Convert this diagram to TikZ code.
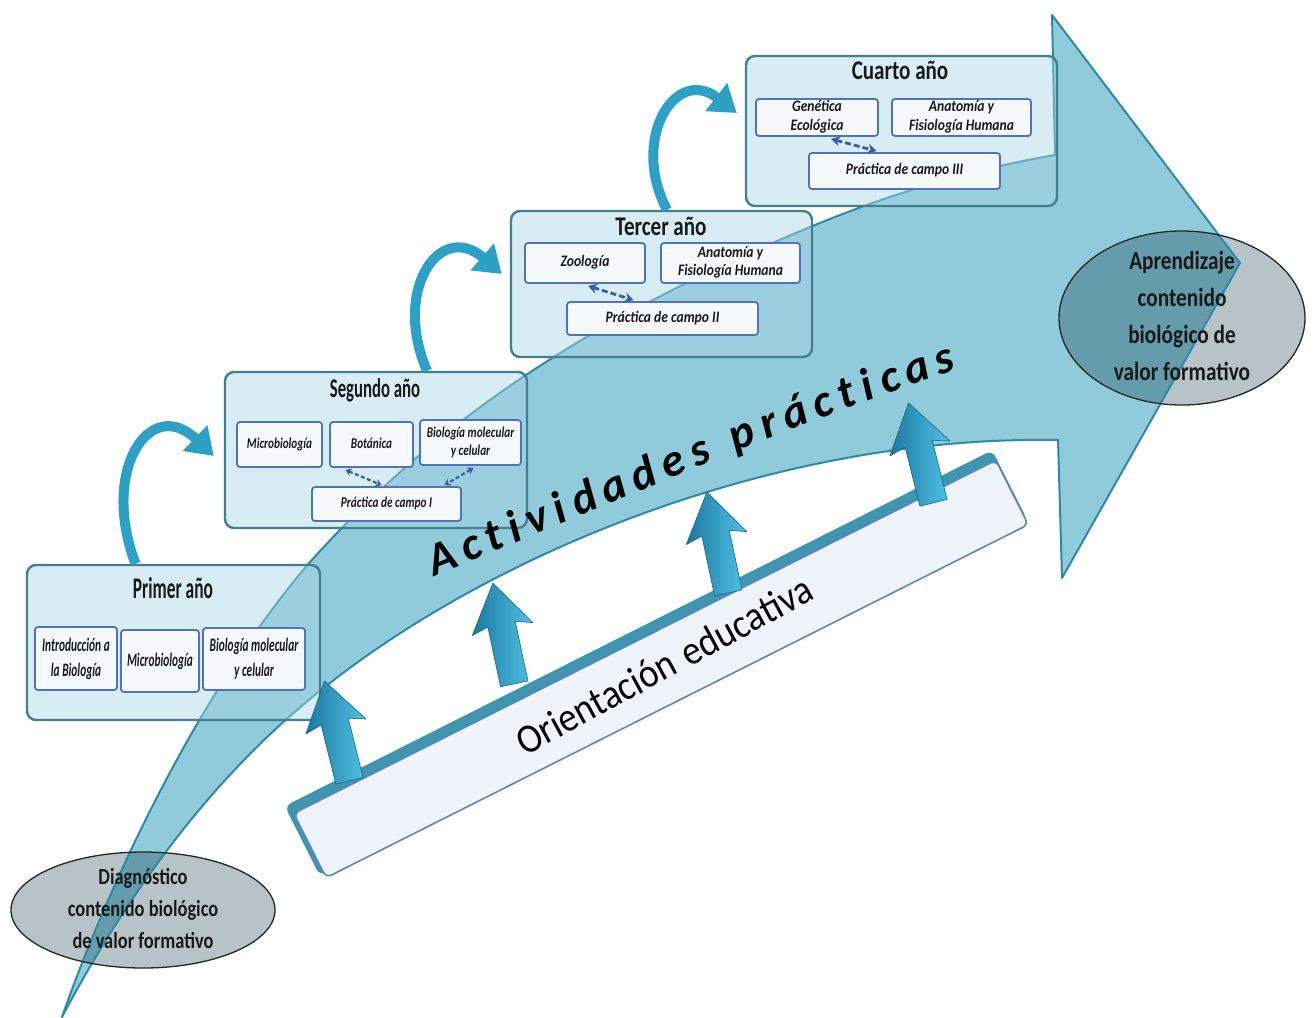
\documentclass[tikz,border=0pt]{standalone}
\usepackage{fontspec}
\setmainfont{Carlito}
\usepackage{graphicx}
\usetikzlibrary{arrows.meta,shapes.geometric}
\definecolor{arrowfill}{RGB}{144,203,220}
\definecolor{arrowline}{RGB}{47,138,163}
\definecolor{boxfill}{RGB}{169,213,228}
\definecolor{boxline}{RGB}{64,128,145}
\definecolor{innerline}{RGB}{80,115,185}
\definecolor{innerfill}{RGB}{246,249,252}
\definecolor{curvecol}{RGB}{45,160,198}
\definecolor{ellgray}{RGB}{183,195,199}
\definecolor{elldark}{RGB}{100,156,172}
\definecolor{dashcol}{RGB}{55,95,160}
\definecolor{upl}{RGB}{28,120,160}
\definecolor{upr}{RGB}{80,195,228}
\definecolor{upd}{RGB}{25,100,135}
\definecolor{barback}{RGB}{62,149,173}
\definecolor{barfill}{RGB}{238,244,249}
\definecolor{barline}{RGB}{90,134,197}
\newcommand{\sq}[2]{\scalebox{#1}[1]{\begin{tabular}{@{}c@{}}#2\end{tabular}}}
\def\bigarrowpath{(62,1017) .. controls (110,880) and (200,690) .. (310,562) .. controls (420,440) and (560,330) .. (815,225) .. controls (900,190) and (980,168) .. (1055,155) -- (1052,15) -- (1240,263) -- (1062,578) -- (1058,440) .. controls (780,435) and (500,550) .. (330,683) .. controls (230,760) and (140,870) .. (62,1017) -- cycle}
\def\aprell{(1182,318) ellipse [x radius=123, y radius=87]}
\def\diaell{(143,910) ellipse [x radius=132, y radius=58]}
\newcommand{\uparr}[3]{\begin{scope}[shift={(#1,#2)}, rotate=#3]
 \shade[left color=upl, right color=upr, draw=upd, line width=0.6pt, line join=round] (-14,6) -- (-14,-55) -- (-31,-50) -- (0,-97) -- (31,-50) -- (14,-55) -- (14,6) -- cycle;
 \end{scope}}
\begin{document}
\begin{tikzpicture}[x=1pt,y=-1pt,
 yearbox/.style={draw=boxline, line width=2.4pt, rounded corners=9pt, fill=boxfill, fill opacity=0.45, inner sep=0pt},
 ytitle/.style={inner sep=0pt, text=black!90, font=\fontsize{27}{30}\selectfont\bfseries},
 inbox/.style={draw=innerline, line width=1.8pt, fill=innerfill, rounded corners=3pt, inner sep=0pt, text=black!90},
 inA/.style={font=\fontsize{19}{25}\selectfont\bfseries\itshape},
 inB/.style={font=\fontsize{15}{18}\selectfont\bfseries\itshape},
 inC/.style={font=\fontsize{16}{18.5}\selectfont\bfseries\itshape},
 dasharrow/.style={draw=dashcol, line width=2.8pt, dash pattern=on 6pt off 3pt, {Stealth[length=9pt,width=10pt]}-{Stealth[length=9pt,width=10pt]}},
 smalldash/.style={draw=dashcol, line width=2.2pt, dash pattern=on 4pt off 2.5pt, {Stealth[length=6pt,width=8pt]}-{Stealth[length=6pt,width=8pt]}},
 curvearrow/.style={draw=curvecol, line width=10pt, -{Triangle[width=34pt,length=26pt]}},
 elltext/.style={inner sep=0pt, text=black!90},
 actl/.style={sloped, anchor=base, inner sep=0pt, font=\fontsize{46}{46}\selectfont\bfseries\itshape, text=black}]
\useasboundingbox (0,0) rectangle (1313,1017);
% big arrow
\fill[arrowfill] \bigarrowpath;
\draw[arrowline, line width=2pt, line join=round] \bigarrowpath;
% year boxes
\node[yearbox, minimum width=293pt, minimum height=155pt] (primer) at (173.5,642.5) {};
\node[yearbox, minimum width=302pt, minimum height=156pt] (segundo) at (376,450) {};
\node[yearbox, minimum width=301pt, minimum height=146pt] (tercer) at (661.5,284) {};
\node[yearbox, minimum width=311pt, minimum height=150pt] (cuarto) at (901.5,131) {};
% titles
\node[ytitle, font=\fontsize{30}{32}\selectfont\bfseries] (primerT) at (173,588) {\scalebox{0.58}[1]{Primer año}};
\node[ytitle] (segundoT) at (375,390) {\scalebox{0.62}[1]{Segundo año}};
\node[ytitle] (tercerT) at (661,226) {\scalebox{0.78}[1]{Tercer año}};
\node[ytitle] (cuartoT) at (900,70) {\scalebox{0.78}[1]{Cuarto año}};
% inner boxes
\node[inbox, inA, minimum width=82pt, minimum height=63pt] (intro) at (76,658.5) {\sq{0.6}{Introducción a\\la Biología}};
\node[inbox, inA, minimum width=78pt, minimum height=62pt] (micro1) at (160,661) {\sq{0.6}{Microbiología}};
\node[inbox, inA, minimum width=102pt, minimum height=62pt] (bio1) at (254,659) {\sq{0.6}{Biología molecular\\y celular}};
\node[inbox, inB, minimum width=85pt, minimum height=45pt] (micro2) at (279.5,444.5) {\sq{0.75}{Microbiología}};
\node[inbox, inB, minimum width=83pt, minimum height=45pt] (bot) at (371.5,444.5) {\sq{0.75}{Botánica}};
\node[inbox, inB, minimum width=101pt, minimum height=45pt] (bio2) at (470.5,442.5) {\sq{0.75}{Biología molecular\\y celular}};
\node[inbox, inB, minimum width=149pt, minimum height=34pt] (prac1) at (386.5,504) {\sq{0.75}{Práctica de campo I}};
\node[inbox, inC, minimum width=120pt, minimum height=40pt] (zoo) at (585,263) {\sq{0.85}{Zoología}};
\node[inbox, inC, minimum width=139pt, minimum height=40pt] (anat3) at (730.5,263) {\sq{0.85}{Anatomía y\\Fisiología Humana}};
\node[inbox, inC, minimum width=191pt, minimum height=33pt] (prac2) at (662.5,318.5) {\sq{0.85}{Práctica de campo II}};
\node[inbox, inC, minimum width=122pt, minimum height=37pt] (gen) at (817,117.5) {\sq{0.85}{Genética\\Ecológica}};
\node[inbox, inC, minimum width=139pt, minimum height=37pt] (anat4) at (961.5,117.5) {\sq{0.85}{Anatomía y\\Fisiología Humana}};
\node[inbox, inC, minimum width=191pt, minimum height=36pt] (prac3) at (904.5,171) {\sq{0.85}{Práctica de campo III}};
% dashed arrows
\draw[dasharrow] ([xshift=14pt,yshift=-2pt]gen.south) -- ([xshift=-28pt,yshift=1pt]prac3.north);
\draw[dasharrow] ([xshift=3pt,yshift=-2pt]zoo.south) -- ([xshift=-29pt,yshift=1pt]prac2.north);
\draw[smalldash] ([xshift=-26pt,yshift=-2pt]bot.south) -- ([xshift=-5pt,yshift=1pt]prac1.north);
\draw[smalldash] ([xshift=3pt,yshift=-2pt]bio2.south) -- ([xshift=58pt,yshift=1pt]prac1.north);
% curved arrows
\draw[curvearrow] ([xshift=-38pt]primer.north) .. controls (100,470) and (150,395) .. ([xshift=-10pt,yshift=-6pt]segundo.west);
\draw[curvearrow] ([xshift=51pt]segundo.north) .. controls (392,290) and (440,220) .. ([xshift=-8pt,yshift=10pt]tercer.west);
\draw[curvearrow] ([xshift=5.5pt]tercer.north) .. controls (630,140) and (675,65) .. ([xshift=-8pt,yshift=18pt]cuarto.west);
% ellipses
\fill[ellgray] \aprell;
\fill[ellgray] \diaell;
\begin{scope}
 \clip \bigarrowpath;
 \fill[elldark] \aprell;
 \fill[elldark] \diaell;
\end{scope}
\begin{scope}
 \clip \aprell;
 \draw[arrowline, line width=2pt] \bigarrowpath;
\end{scope}
\begin{scope}
 \clip \diaell;
 \draw[arrowline, line width=2pt] \bigarrowpath;
\end{scope}
\node[ellipse, draw=black!85, line width=1.3pt, minimum width=246pt, minimum height=174pt, inner sep=0pt] (apr) at (1182,318) {};
\node[ellipse, draw=black!85, line width=1.3pt, minimum width=264pt, minimum height=116pt, inner sep=0pt] (diag) at (143,910) {};
\node[elltext, font=\fontsize{26}{37}\selectfont\bfseries] (aprT) at (apr.center) {\sq{0.82}{Aprendizaje\\contenido\\biológico de\\valor formativo}};
\node[elltext, font=\fontsize{23}{32}\selectfont\bfseries] (diagT) at (diag.center) {\sq{0.8}{Diagnóstico\\contenido biológico\\de valor formativo}};
% orientation bar
\node[fill=barback, rounded corners=7pt, minimum width=792pt, minimum height=78pt, rotate=26.7] (barB) at (656,663) {};
\node[draw=barline, line width=1.6pt, fill=barfill, rounded corners=6pt, minimum width=786pt, minimum height=72pt, rotate=26.7] (bar) at (661,669) {};
\node[rotate=28.5, inner sep=0pt, font=\fontsize{41}{41}\selectfont, text=black] (orient) at (664,665) {\scalebox{0.9}[1]{Orientación\hspace{12pt}educativa}};
% up arrows
\uparr{348}{775}{14}
\uparr{513}{678}{12}
\uparr{727}{587}{12}
\uparr{932}{497}{14}
% Actividades practicas
\foreach \l/\p [count=\i] in {A/0, c/0.0588, t/0.1066, i/0.1472, v/0.1931, i/0.2391, d/0.2877, a/0.3467, d/0.4057, e/0.4651, s/0.5188, p/0.6023, r/0.6554, á/0.7068, c/0.7607, t/0.8086, i/0.8492, c/0.8928, a/0.9467, s/1.0}{
 \path (447,571) .. controls (610,505) and (780,428) .. (948,373) node[actl, pos=\p] (act\i) {\l};
}
\end{tikzpicture}
\end{document}
